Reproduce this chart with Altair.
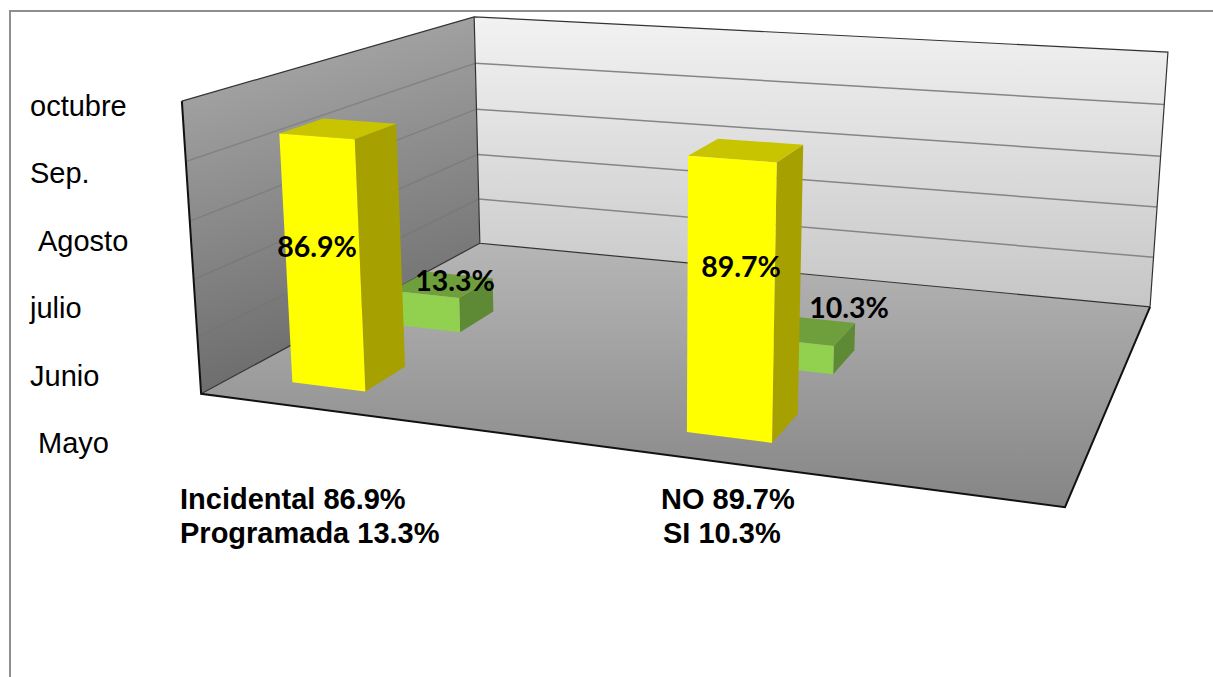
import altair as alt
import numpy as np
import pandas as pd

W, H = 1213, 677

# Chart content
months = ["Mayo", "Junio", "julio", "Agosto", "Sep.", "octubre"]
series_a = [86.9, 89.7]
series_b = [13.3, 10.3]
caption_1 = ["Incidental 86.9%", "NO 89.7%"]
caption_2 = ["Programada 13.3%", "SI 10.3%"]

# Scene layout: bar footprints on the floor, value at the top of the box
group_start = [0.078, 0.576]
bar_width = 0.098
depth_a = (0.098, 0.230)
depth_b = (0.432, 0.566)
value_top = 100.0
grid_levels = [0.2, 0.4, 0.6, 0.8]
month_x = [38, 30, 30, 38, 30, 30]
caption_x = [180, 661, 180, 663]
caption_y = [500, 500, 534, 534]
value_label_x = [317, 455, 741, 849]
value_label_y = [248, 282, 268, 309]

# Camera that maps (across, depth, height) in the unit box to page pixels
world = np.array([[0,0,0],[0,1,0],[1,1,0],[1,0,0],[0,0,1],[0,1,1],[1,1,1]], float)
page = np.array([[201,394],[480,243],[1150,307],[1065,507],[182,101],[474,17],[1168,52]], float)
rows, rhs = [], []
for (u, v, h), (x, y) in zip(world, page):
    rows.append([u, v, h, 1, 0, 0, 0, 0, -x*u, -x*v, -x*h]); rhs.append(x)
    rows.append([0, 0, 0, 0, u, v, h, 1, -y*u, -y*v, -y*h]); rhs.append(y)
cam = np.append(np.linalg.lstsq(np.array(rows), np.array(rhs), rcond=None)[0], 1).reshape(3, 4)


def project(u, v, h=0.0):
    p = cam @ np.array([u, v, h, 1.0])
    return [float(p[0] / p[2]), float(p[1] / p[2])]


def feature(kind, points, fill="none"):
    coords = [points + [points[0]]] if kind == "Polygon" else points
    return {"type": "Feature", "properties": {"fill": fill},
            "geometry": {"type": kind, "coordinates": coords}}


def source(feats):
    return alt.InlineData(values={"type": "FeatureCollection", "features": feats},
                          format=alt.DataFormat(property="features", type="json"))


def shapes(feats, **mark):
    return alt.Chart(source(feats)).mark_geoshape(**mark).project(type="identity", scale=1, translate=[0, 0])


def lines(paths, color, width, opacity=1.0):
    return shapes([feature("LineString", p) for p in paths], filled=False, stroke=color,
                  strokeWidth=width, strokeOpacity=opacity)


def gradient(top, bottom, x1=0.5, y1=0.0, x2=0.5, y2=1.0):
    return alt.LinearGradient(gradient="linear", x1=x1, y1=y1, x2=x2, y2=y2,
                              stops=[alt.GradientStop(offset=0, color=top),
                                     alt.GradientStop(offset=1, color=bottom)])


# Walls and floor
left_wall = shapes([feature("Polygon", [project(0,0,0), project(0,0,1), project(0,1,1), project(0,1,0)])],
                   fill=gradient("#a0a0a0", "#6e6e6e", 1.0, 0.0, 1.166, 0.74), strokeWidth=0)
back_wall = shapes([feature("Polygon", [project(0,1,0), project(0,1,1), project(1,1,1), project(1,1,0)])],
                   fill=gradient("#f2f2f2", "#c6c6c6"), strokeWidth=0)
floor = shapes([feature("Polygon", [project(0,0), project(0,1), project(1,1), project(1,0)])],
               fill=gradient("#b6b6b6", "#858585"), strokeWidth=0)

grid_back = lines([[project(0,1,h), project(1,1,h)] for h in grid_levels], "#858585", 1.5)
grid_left = lines([[project(0,0,h), project(0,1,h)] for h in grid_levels], "#727272", 1.5, 0.55)

thin_edges = lines([[project(0,0,1), project(0,1,1), project(1,1,1), project(1,1,0)],
                    [project(0,1,1), project(0,1,0), project(1,1,0)],
                    [project(0,0,0), project(0,1,0)]], "#333333", 1.2)
heavy_edges = lines([[project(0,0,1), project(0,0,0), project(1,0,0), project(1,1,0)]], "#111111", 2)

frame = lines([[[10, H], [10, 11], [W, 11]]], "#8f8f8f", 2)


def box(u0, d, value, front, side, top):
    """Three visible faces of one column, height taken from its value."""
    u1 = u0 + bar_width
    v0, v1 = d
    h = value / value_top
    return [
        feature("Polygon", [project(u1,v0,0), project(u1,v0,h), project(u1,v1,h), project(u1,v1,0)], side),
        feature("Polygon", [project(u0,v0,h), project(u0,v1,h), project(u1,v1,h), project(u1,v0,h)], top),
        feature("Polygon", [project(u0,v0,0), project(u0,v0,h), project(u1,v0,h), project(u1,v0,0)], front),
    ]


bar_feats = []
for start, a, b in zip(group_start, series_a, series_b):
    bar_feats += box(start, depth_b, b, "#92d050", "#5f8a35", "#6f9e3d")
    bar_feats += box(start, depth_a, a, "#ffff00", "#a6a000", "#c8c400")
bars = shapes(bar_feats, strokeWidth=0).encode(color=alt.Color("properties.fill:N", scale=None))

x_px = alt.Scale(domain=[0, W], range=[0, W])
y_px = alt.Scale(domain=[0, H], range=[0, H])

# Month labels stacked on the left, running upward
month_df = pd.DataFrame({"month": months, "px": month_x})
month_layer = alt.Chart(month_df).mark_text(align="left", baseline="middle", font="Liberation Sans",
                                            fontSize=29, color="#000000").encode(
    x=alt.X("px:Q", scale=x_px, axis=None),
    y=alt.Y("month:N", sort=None, axis=None,
            scale=alt.Scale(type="point", domain=months, range=[444, 107], padding=0)),
    text="month:N",
)

# Captions below the floor
caption_df = pd.DataFrame({"label": caption_1 + caption_2, "px": caption_x, "py": caption_y})
caption_layer = alt.Chart(caption_df).mark_text(align="left", baseline="middle", font="Liberation Sans",
                                                fontSize=29, fontWeight="bold", color="#000000").encode(
    x=alt.X("px:Q", scale=x_px, axis=None),
    y=alt.Y("py:Q", scale=y_px, axis=None),
    text="label:N",
)

# Value labels next to their columns
value_labels = [f"{v}%" for pair in zip(series_a, series_b) for v in pair]
value_df = pd.DataFrame({"label": value_labels, "px": value_label_x, "py": value_label_y})
value_layer = alt.Chart(value_df).mark_text(align="center", baseline="middle", font="Lato",
                                            fontSize=28.5, fontWeight="bold", color="#000000").encode(
    x=alt.X("px:Q", scale=x_px, axis=None),
    y=alt.Y("py:Q", scale=y_px, axis=None),
    text="label:N",
)

chart = alt.layer(frame, left_wall, back_wall, floor, grid_back, grid_left, thin_edges, heavy_edges,
                  bars, month_layer, caption_layer, value_layer).resolve_scale(
    x="independent", y="independent"
).properties(width=W, height=H, padding=0, autosize="none", background="#ffffff").configure_view(stroke=None)
chart.save("out.html", embed_options={"renderer": "svg", "actions": False})
